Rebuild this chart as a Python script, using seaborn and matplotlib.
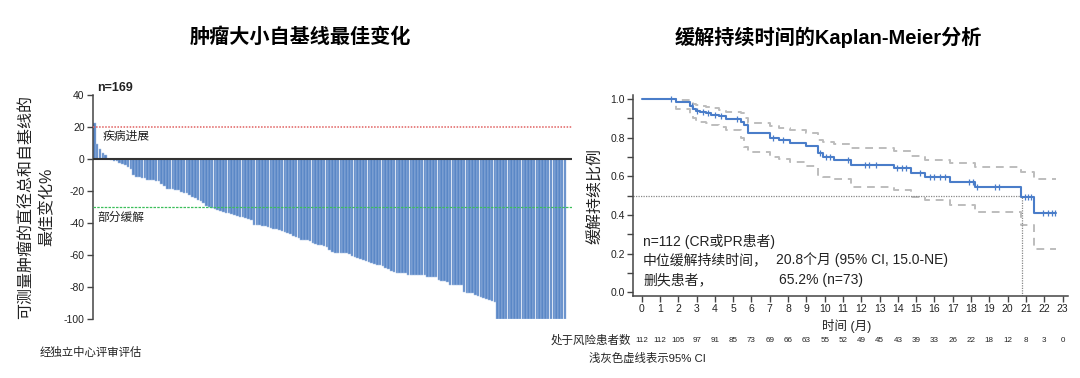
import numpy as np
import matplotlib
matplotlib.use("Agg")
import matplotlib.pyplot as plt
import matplotlib.transforms as mtrans
import seaborn as sns

# ---------------- data ----------------
# Waterfall: best % change from baseline in sum of diameters (169 patients)
waterfall_values = [
    22.5, 9.5, 6, 4, 2.5, 0.3,
    -0.5, -1, -1.5, -2.5, -3, -3.5,
    -5, -6.5,
    -10, -11, -11.5, -12, -12,
    -13, -13, -13, -13.5, -14,
    -15.5, -17,
    -19, -19, -19, -19.5, -19.5,
    -20.5, -21, -21.5, -22.5,
    -23.5, -24.5, -25.5, -26.5, -27.5,
    -29.5, -30, -30.5, -31,
    -32, -32.5, -33, -33.5, -34, -34.5,
    -35, -35.5, -36, -36.5, -37, -37.5, -38,
    -41, -41.5, -41.5, -42, -42,
    -42.5, -43, -43.5, -44, -44.5, -45,
    -45.5, -46, -47, -48, -49, -49.5,
    -50.5, -50.5, -50.5, -51,
    -52.5, -53, -53.5, -54, -54.5, -55,
    -57, -58, -58.5,
    -59, -59, -59, -59, -59.5,
    -60.5, -61, -62, -62.5, -63,
    -64, -64.5, -65, -65.5, -66, -66,
    -67, -68, -69, -70, -70.5,
    -71, -71, -71, -71.5,
    -72.5, -72.5, -72.5, -72.5, -72.5, -72.5, -72.5,
    -73.5, -73.5, -73.5, -73.5,
    -75.5, -76, -76.5, -77,
    -79, -79, -79, -79, -79,
    -83, -83.5, -84, -84,
    -85, -85.5, -86, -87, -87.5, -88,
    -89, -89.5,
] + [-100] * 25
patient_index = list(range(len(waterfall_values)))
pd_threshold = 20
pr_threshold = -30
wf_yticks = [40, 20, 0, -20, -40, -60, -80, -100]

# Kaplan-Meier duration of response
km_time = [0, 1.9, 2.65, 2.8, 2.95, 3.2, 3.5, 3.8, 4.2, 4.6, 5.45, 5.6, 5.8,
           7.0, 7.5, 8.1, 9.0, 9.65, 9.9, 10.5, 11.45, 13.8, 14.7, 15.5,
           16.85, 18.2, 20.75, 21.45, 22.65]
km_surv = [1.0, 0.983, 0.965, 0.95, 0.94, 0.933, 0.926, 0.92, 0.912, 0.895,
           0.883, 0.865, 0.822, 0.797, 0.788, 0.774, 0.755, 0.719, 0.70, 0.684,
           0.658, 0.641, 0.615, 0.595, 0.572, 0.543, 0.492, 0.412, 0.412]
ci_upper = [1.0, 0.995, 0.985, 0.975, 0.97, 0.965, 0.96, 0.955, 0.945, 0.935,
            0.93, 0.90, 0.878, 0.86, 0.85, 0.84, 0.826, 0.79, 0.78, 0.765,
            0.745, 0.733, 0.705, 0.685, 0.67, 0.65, 0.624, 0.586, 0.586]
ci_lower = [1.0, 0.947, 0.917, 0.90, 0.89, 0.88, 0.874, 0.865, 0.855, 0.84,
            0.80, 0.753, 0.727, 0.70, 0.69, 0.675, 0.655, 0.607, 0.598, 0.585,
            0.546, 0.529, 0.495, 0.477, 0.45, 0.417, 0.348, 0.222, 0.222]
censor_time = [1.6, 2.75, 3.05, 3.35, 3.65, 4.0, 4.35, 5.2, 7.2, 7.7, 9.75,
               10.1, 10.3, 11.3, 12.2, 12.45, 12.8, 13.95, 14.2, 14.45, 15.2,
               15.75, 16.0, 16.3, 16.6, 17.9, 18.1, 18.35, 19.3, 19.55,
               20.95, 21.1, 21.3, 21.95, 22.2, 22.45, 22.6]
median_time = 20.8
months = list(range(0, 24))
at_risk = [112, 112, 105, 97, 91, 85, 73, 69, 66, 63, 55, 52, 49, 45, 43, 39,
           33, 26, 22, 18, 12, 8, 3, 0]

# ---------------- style ----------------
sns.set_theme(style="white")
plt.rcParams["font.family"] = ["Liberation Sans", "Noto Sans CJK SC", "DejaVu Sans"]
plt.rcParams["axes.unicode_minus"] = False

BAR = "#5A87C6"
KM = "#4A7DC9"
CI = "#BDBDBD"
TXT = "#222222"

fig = plt.figure(figsize=(10.8, 3.78), dpi=100)

# ---------------- waterfall ----------------
ax1 = fig.add_axes([93 / 1080, 1 - 319 / 378, 479 / 1080, 224 / 378])
sns.barplot(x=patient_index, y=waterfall_values, color=BAR, saturation=1,
            width=0.92, edgecolor="#A8C0E4", linewidth=0.35, ax=ax1)
ax1.set_xlim(-0.5, 170.5)
ax1.set_ylim(-100, 40)
ax1.axhline(0, color="#333333", lw=1.5, zorder=5)
ax1.axhline(pd_threshold, color="#E06060", lw=1.1, ls=(0, (1, 1)), zorder=5)
ax1.axhline(pr_threshold, color="#3CBF5A", lw=0.9, ls=(0, (2, 1)), zorder=5)
ax1.set_xticks([])
ax1.set_yticks(wf_yticks)
ax1.set_xlabel("")
ax1.set_ylabel("")
for s in ["top", "right", "bottom"]:
    ax1.spines[s].set_visible(False)
ax1.spines["left"].set_color("#444444")
ax1.spines["left"].set_linewidth(1.1)
ax1.tick_params(axis="y", which="major", direction="out", length=4, width=1,
                color="#444444", labelsize=7.5, labelcolor=TXT, pad=2, left=True)
ax1.text(0.008, 1.03, "n=169", transform=ax1.transAxes, fontsize=9,
         fontweight="bold", color=TXT, va="center", ha="left")
ax1.text(0.021, 13.8, "疾病进展", transform=mtrans.blended_transform_factory(
    ax1.transAxes, ax1.transData), fontsize=8.5, color=TXT, va="center")
ax1.text(0.010, -37, "部分缓解", transform=mtrans.blended_transform_factory(
    ax1.transAxes, ax1.transData), fontsize=8.5, color=TXT, va="center")
fig.text(25 / 1080, 1 - 207 / 378, "可测量肿瘤的直径总和自基线的",
         rotation=90, fontsize=11.5, ha="center", va="center", color=TXT)
fig.text(47 / 1080, 1 - 207 / 378, "最佳变化%",
         rotation=90, fontsize=11.5, ha="center", va="center", color=TXT)
fig.text(40 / 1080, 1 - 352 / 378, "经独立中心评审评估", fontsize=8.2,
         color=TXT, va="center", ha="left")
fig.text(300 / 1080, 1 - 37 / 378, "肿瘤大小自基线最佳变化", fontsize=14.5,
         fontweight="bold", ha="center", va="center", color="black")

# ---------------- Kaplan-Meier ----------------
ax2 = fig.add_axes([633 / 1080, 1 - 296 / 378, 435 / 1080, 201 / 378])
sns.lineplot(x=km_time, y=ci_upper, drawstyle="steps-post", estimator=None,
             sort=False, color=CI, lw=1.4, dashes=False, ls=(0, (4, 3)), ax=ax2)
sns.lineplot(x=km_time, y=ci_lower, drawstyle="steps-post", estimator=None,
             sort=False, color=CI, lw=1.4, dashes=False, ls=(0, (4, 3)), ax=ax2)
sns.lineplot(x=km_time, y=km_surv, drawstyle="steps-post", estimator=None,
             sort=False, color=KM, lw=1.5, ax=ax2, zorder=4)
idx = np.searchsorted(km_time, censor_time, side="right") - 1
censor_surv = [km_surv[i] for i in idx]
sns.scatterplot(x=censor_time, y=censor_surv, marker="|", s=16, linewidth=0.9,
                color=KM, ax=ax2, zorder=5)
xmin, xmax = -0.475, 23.3
ax2.hlines(0.5, xmin, median_time, colors="#888888", lw=0.9,
           linestyles=(0, (1, 1)))
ax2.vlines(median_time, -0.019, 0.5, colors="#888888", lw=0.9,
           linestyles=(0, (1, 1)))
ax2.set_xlim(xmin, xmax)
ax2.set_ylim(-0.019, 1.021)
ax2.set_xticks(months)
ax2.set_xticklabels([str(m) for m in months])
ax2.set_yticks([0, 0.2, 0.4, 0.6, 0.8, 1.0])
ax2.set_yticklabels(["0.0", "0.2", "0.4", "0.6", "0.8", "1.0"])
ax2.set_yticks(np.arange(0.1, 1.0, 0.2), minor=True)
ax2.set_xlabel("")
ax2.set_ylabel("")
for s in ["top", "right"]:
    ax2.spines[s].set_visible(False)
for s in ["left", "bottom"]:
    ax2.spines[s].set_color("#444444")
    ax2.spines[s].set_linewidth(1.1)
ax2.tick_params(axis="both", which="major", direction="out", length=4, width=1,
                color="#444444", labelsize=7.5, labelcolor=TXT, pad=2,
                left=True, bottom=True)
ax2.tick_params(axis="y", which="minor", direction="out", length=4, width=1,
                color="#444444", left=True)
ax2.text(0.07, 0.265, "n=112 (CR或PR患者)", fontsize=10, color=TXT, va="center")
ax2.text(0.07, 0.167, "中位缓解持续时间，", fontsize=10, color=TXT, va="center")
ax2.text(7.34, 0.167, "20.8个月 (95% CI, 15.0-NE)", fontsize=10, color=TXT,
         va="center")
ax2.text(0.07, 0.064, "删失患者，", fontsize=10, color=TXT, va="center")
ax2.text(7.52, 0.064, "65.2% (n=73)", fontsize=10, color=TXT, va="center")

fig.text(596 / 1080, 1 - 196 / 378, "缓解持续比例", rotation=90, fontsize=11.5,
         ha="center", va="center", color=TXT)
fig.text(847 / 1080, 1 - 326 / 378, "时间 (月)", fontsize=9, ha="center",
         va="center", color=TXT)
tr = mtrans.blended_transform_factory(ax2.transData, fig.transFigure)
for m, n in zip(months, at_risk):
    ax2.text(m, 1 - 341 / 378, str(n), transform=tr, fontsize=5.8,
             ha="center", va="center", color=TXT, clip_on=False)
fig.text(631 / 1080, 1 - 341 / 378, "处于风险患者数", fontsize=8.3,
         ha="right", va="center", color=TXT)
fig.text(589 / 1080, 1 - 358 / 378, "浅灰色虚线表示95% CI", fontsize=8.2,
         ha="left", va="center", color=TXT)
fig.text(828 / 1080, 1 - 37 / 378, "缓解持续时间的Kaplan-Meier分析", fontsize=14.5,
         fontweight="bold", ha="center", va="center", color="black")

fig.savefig("out.png", dpi=100, facecolor="white")
